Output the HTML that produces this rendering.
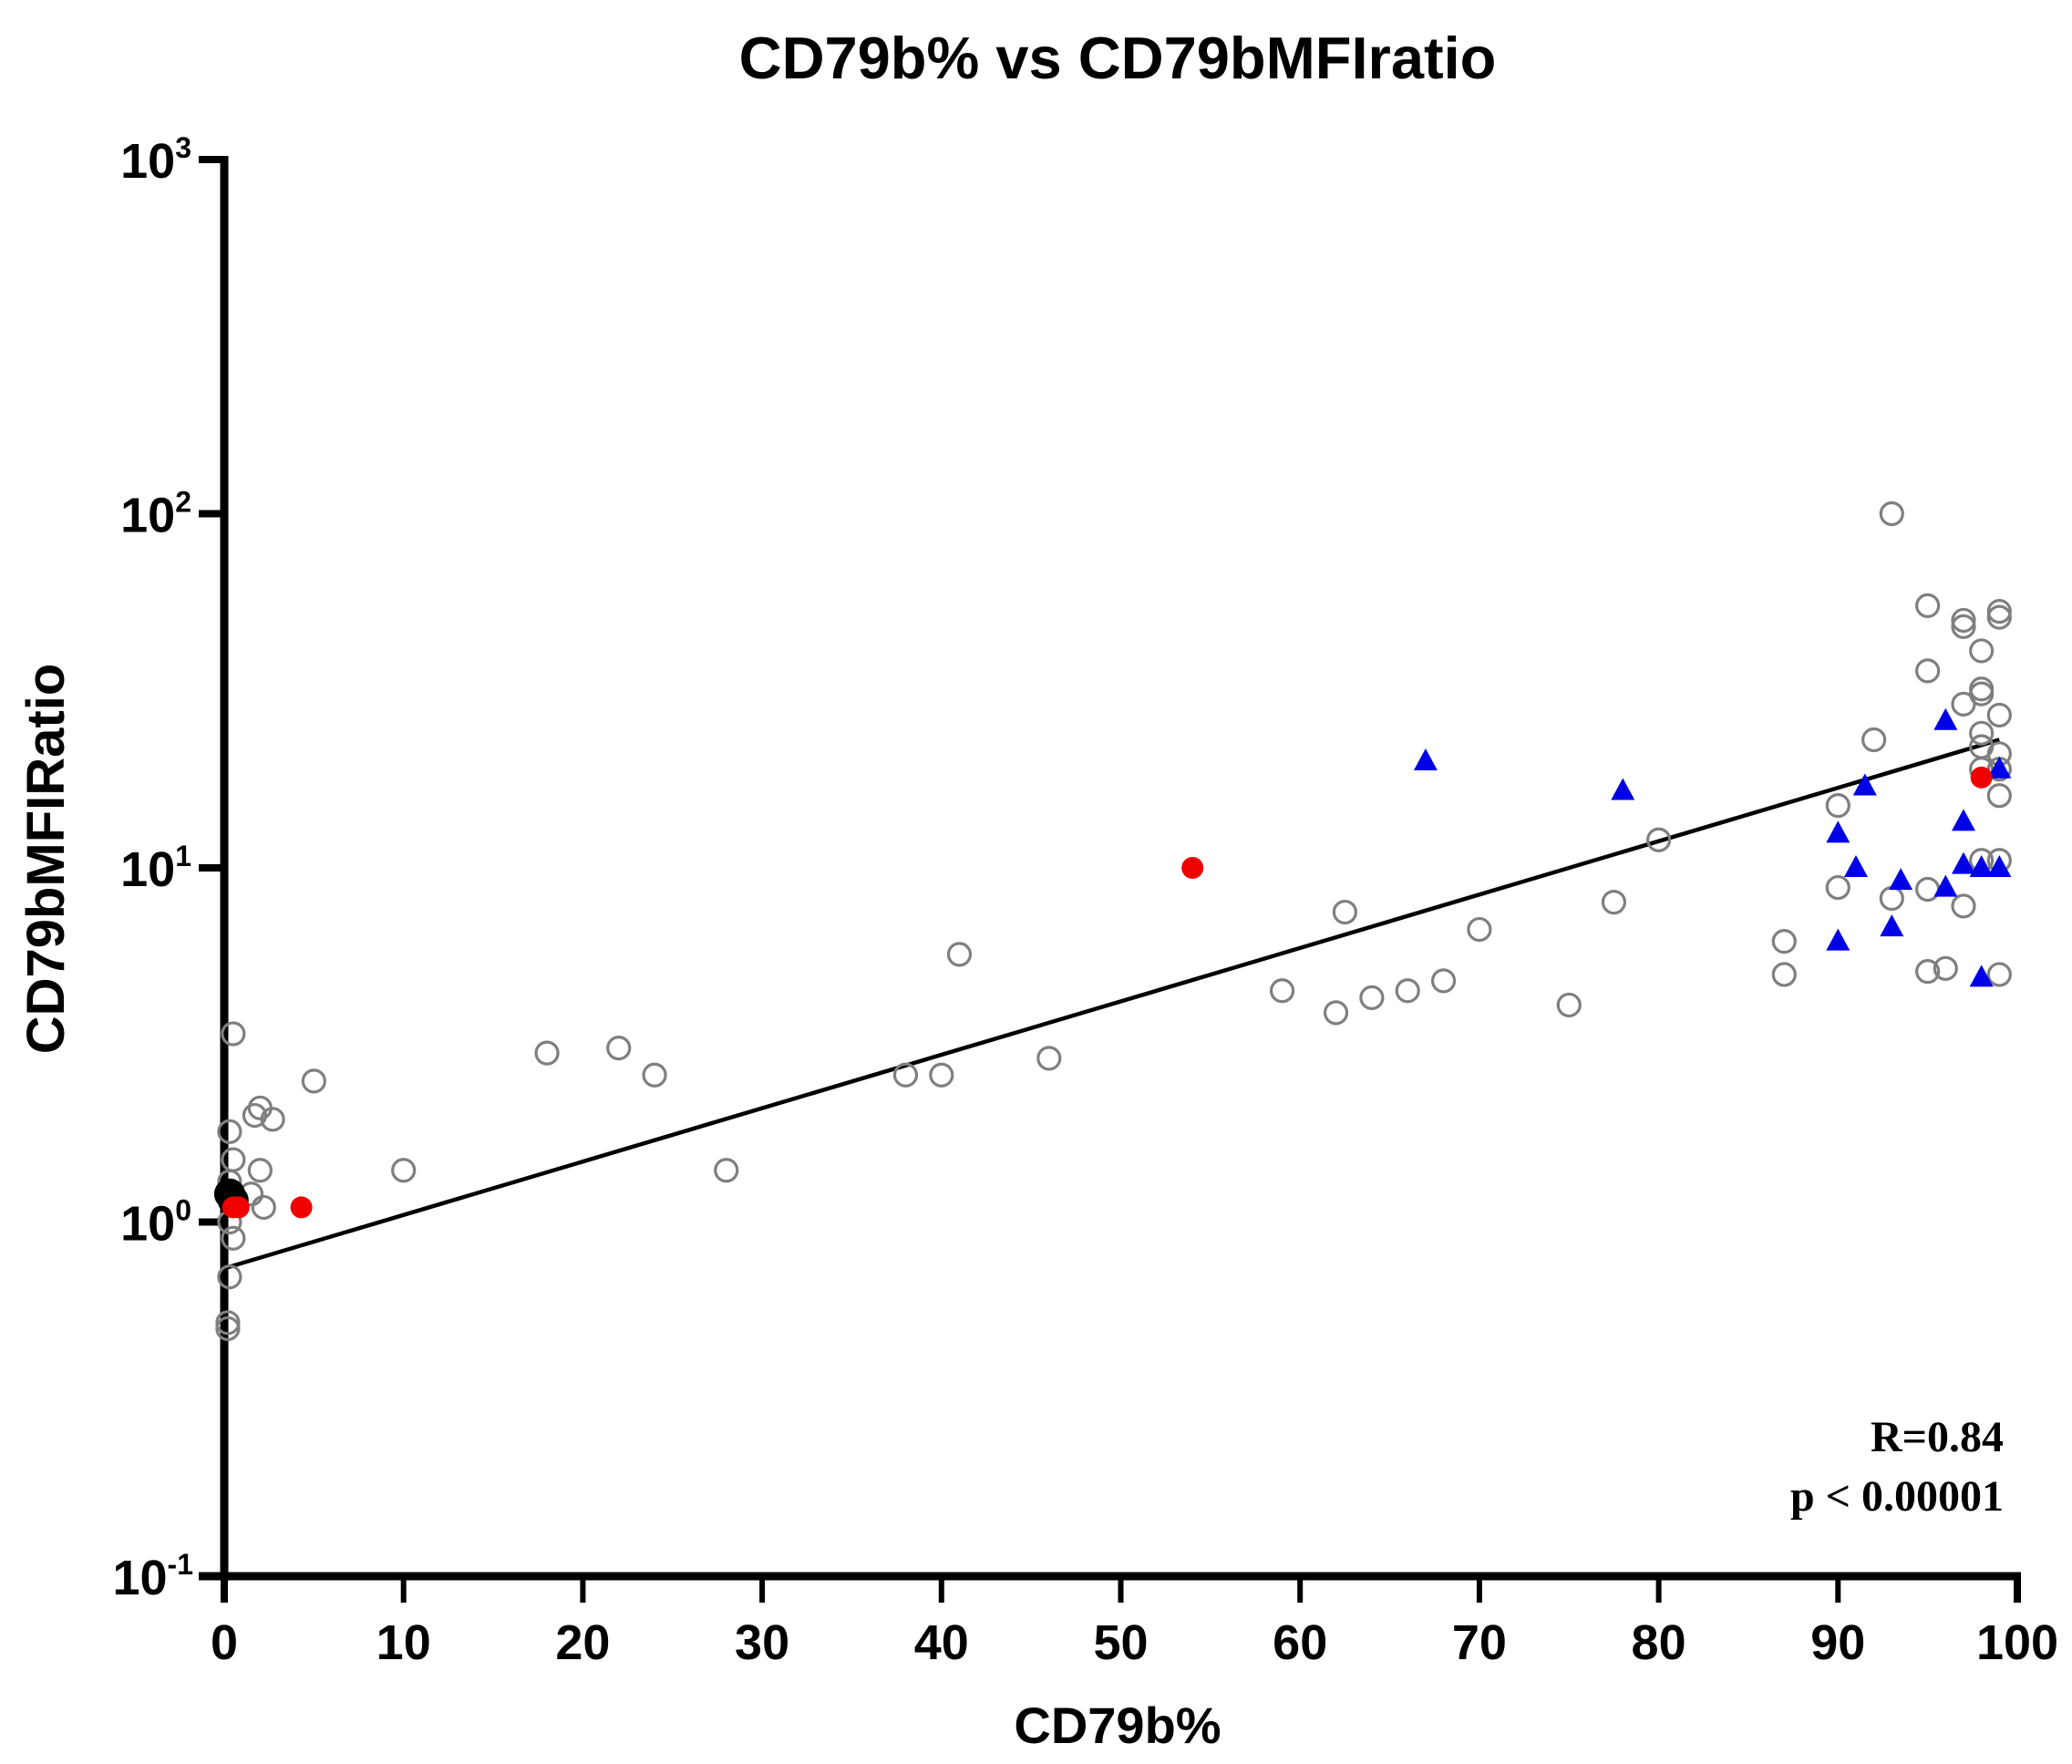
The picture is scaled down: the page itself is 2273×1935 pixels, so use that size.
<!DOCTYPE html>
<html><head><meta charset="utf-8"><style>
html,body{margin:0;padding:0;background:#fff;}
svg{display:block;font-family:"Liberation Sans",Arial,sans-serif;}
</style></head><body>
<svg id="chart" width="2273" height="1935" viewBox="0 0 2273 1935" xmlns="http://www.w3.org/2000/svg">
<text x="1226" y="86" text-anchor="middle" font-weight="bold" font-size="65">CD79b% vs CD79bMFIratio</text>
<text x="1226" y="1912" text-anchor="middle" font-weight="bold" font-size="56">CD79b%</text>
<text transform="translate(70,942) rotate(-90)" text-anchor="middle" font-weight="bold" font-size="58">CD79bMFIRatio</text>
<g id="axes"></g>
<g id="fit"></g>
<g id="marks"></g>
<text x="2198" y="1592" text-anchor="end" font-family="Liberation Serif,serif" font-weight="bold" font-size="48">R=0.84</text>
<text x="2198" y="1657" text-anchor="end" font-family="Liberation Serif,serif" font-weight="bold" font-size="48">p &lt; 0.00001</text>
</svg>
<script>
const xTicks = [0,10,20,30,40,50,60,70,80,90,100];
const yExps = [-1,0,1,2,3];
const grayX = [0.5,0.3,0.5,0.3,0.5,0.3,0.5,0.3,0.2,0.2,1.7,2,2.7,2,2.2,1.5,5,10,18,22,24,28,38,40,41,46,59,62,62.5,64,66,68,70,75,77.5,80,87,87,90,90,92,93,93,95,95,95,95,96,97,97,97,97,98,98,98,98,98,98,98,99,99,99,99,99,99,99,99];
const grayY = [3.4,1.8,1.5,1.3,1.2,1.0,0.9,0.7,0.52,0.5,2.0,2.1,1.95,1.4,1.1,1.2,2.5,1.4,3.0,3.1,2.6,1.4,2.6,2.6,5.7,2.9,4.5,3.9,7.5,4.3,4.5,4.8,6.7,4.1,8,12,6.2,5.0,15,8.8,23,100,8.2,55,36,8.7,5.1,5.2,50,48,29,7.8,41,32,31,24,22,19,10.5,53,51,27,21,19,16,10.5,5.0];
const blueX = [67,78,90,90,91,91.5,93,93.5,96,96,97,97,98,98,99,99];
const blueY = [20,16.5,12.5,6.2,10,17,6.8,9.2,26,8.8,13.5,10.2,10,4.9,19,10];
const blackX = [0.3,0.5];
const blackY = [1.2,1.15];
const redX = [0.5,0.8,4.3,54,98];
const redY = [1.1,1.1,1.1,10,18];
const fitX = [0,99];
const fitY = [0.74,23];

const NS="http://www.w3.org/2000/svg";
const X0=246,X1=2213,YT=175,YB=1729;
const sx=v=>X0+(X1-X0)*v/100;
const sy=v=>YB-(YB-YT)*(Math.log10(v)+1)/4;
function mk(t,a,p){const e=document.createElementNS(NS,t);for(const k in a)e.setAttribute(k,a[k]);p.appendChild(e);return e;}
const ax=document.getElementById('axes');
let l=mk('line',{x1:X0,y1:YT-4,x2:X0,y2:YB+5,stroke:'#000','stroke-width':9},ax);


l=mk('line',{x1:X0-28,y1:YB,x2:X1+4,y2:YB,stroke:'#000','stroke-width':9},ax);


xTicks.forEach(v=>{
 const t=mk('line',{x1:sx(v),y1:YB,x2:sx(v),y2:YB+29,stroke:'#000','stroke-width':v===0||v===100?8:6},ax);
 
 
 const tx=mk('text',{x:sx(v),y:1820,'text-anchor':'middle','font-weight':'bold','font-size':54},ax);
 tx.textContent=v;
 
 
});
yExps.forEach(e=>{
 const y=sy(Math.pow(10,e));
 const t=mk('line',{x1:X0-28,y1:y,x2:X0,y2:y,stroke:'#000','stroke-width':8},ax);
 
 
 const tx=mk('text',{x:e<0?212:210,y:y+20,'text-anchor':'end','font-weight':'bold','font-size':54},ax);
 tx.textContent='10';
 const s=mk('tspan',{dy:-22,'font-size':32},tx);
 s.textContent=String(e);
 
 
});
const fit=document.getElementById('fit');
l=mk('line',{x1:sx(fitX[0]),y1:sy(fitY[0]),x2:sx(fitX[1]),y2:sy(fitY[1]),stroke:'#000','stroke-width':4.5},fit);


const mg=document.getElementById('marks');
grayX.forEach((x,i)=>{
 const c=mk('circle',{cx:sx(x),cy:sy(grayY[i]),r:12,fill:'none',stroke:'#7f7f7f','stroke-width':3.2},mg);
 
 
});
blackX.forEach((x,i)=>{
 const c=mk('circle',{cx:sx(x),cy:sy(blackY[i]),r:17,fill:'#000'},mg);
 
 
});
blueX.forEach((x,i)=>{
 const cx=sx(x),cy=sy(blueY[i]);
 const p=mk('polygon',{points:`${cx},${cy-14} ${cx-13},${cy+10} ${cx+13},${cy+10}`,fill:'#0000e6'},mg);
 
 
});
redX.forEach((x,i)=>{
 const c=mk('circle',{cx:sx(x),cy:sy(redY[i]),r:12,fill:'#f00000'},mg);
 
 
});
</script>
</body></html>
